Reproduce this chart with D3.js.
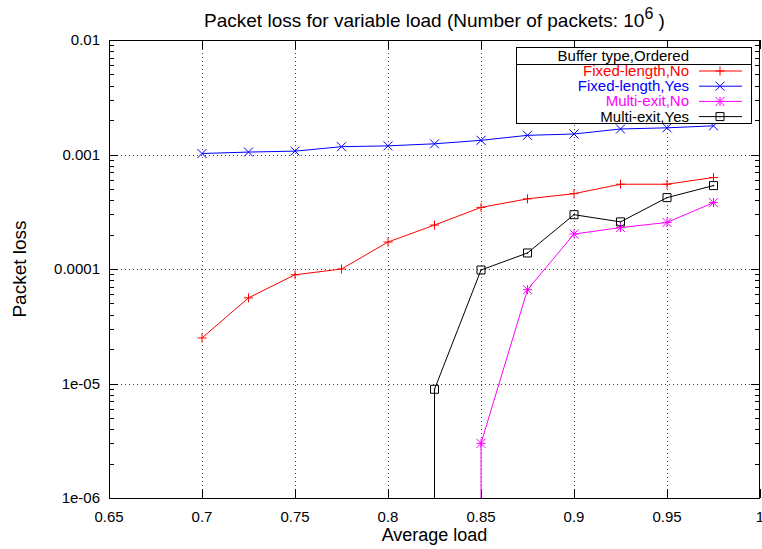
<!DOCTYPE html>
<html>
<head>
<meta charset="utf-8">
<script src="https://cdn.jsdelivr.net/npm/d3@7"></script>
<style>
  body { margin: 0; background: #fff; }
  svg { display: block; font-family: "Liberation Sans", Arial, sans-serif; }
</style>
</head>
<body>
<div id="chart"></div>
<script>
// average load values (x)
const loads = [0.7, 0.725, 0.75, 0.775, 0.8, 0.825, 0.85, 0.875, 0.9, 0.925, 0.95, 0.975];

// packet loss per series (0 = no loss measured)
const fixedNo  = [2.5e-5, 5.6e-5, 8.9e-5, 1.0e-4, 1.72e-4, 2.42e-4, 3.45e-4, 4.1e-4, 4.55e-4, 5.5e-4, 5.5e-4, 6.3e-4];
const fixedYes = [1.02e-3, 1.05e-3, 1.07e-3, 1.17e-3, 1.19e-3, 1.24e-3, 1.33e-3, 1.47e-3, 1.51e-3, 1.67e-3, 1.71e-3, 1.78e-3];
const multiNo  = [0, 0, 0, 0, 0, 0, 3.0e-6, 6.6e-5, 2.02e-4, 2.3e-4, 2.55e-4, 3.8e-4];
const multiYes = [0, 0, 0, 0, 0, 8.9e-6, 9.8e-5, 1.38e-4, 2.98e-4, 2.58e-4, 4.2e-4, 5.35e-4];

const seriesNames = ['Fixed-length,No', 'Fixed-length,Yes', 'Multi-exit,No', 'Multi-exit,Yes'];
const seriesColors = ['#ff0000', '#0000ff', '#ff00ff', '#000000'];
const seriesMarkers = ['plus', 'cross', 'star', 'square'];

const xTicks = [0.65, 0.7, 0.75, 0.8, 0.85, 0.9, 0.95, 1];
const xTickLabels = ['0.65', '0.7', '0.75', '0.8', '0.85', '0.9', '0.95', '1'];
const yTicks = [1e-6, 1e-5, 1e-4, 1e-3, 1e-2];
const yTickLabels = ['1e-06', '1e-05', '0.0001', '0.001', '0.01'];

const width = 762, height = 549;
const margin = { top: 40, right: 2, bottom: 51, left: 109 };
const fs = 15;

const svg = d3.select('#chart').append('svg')
    .attr('width', width)
    .attr('height', height);

svg.append('rect').attr('width', width).attr('height', height).attr('fill', '#fff');

const x = d3.scaleLinear().domain([0.65, 1]).range([margin.left, width - margin.right]);
const y = d3.scaleLog().domain([1e-6, 1e-2]).range([height - margin.bottom, margin.top]);

const x0 = x.range()[0], x1 = x.range()[1];
const y0 = y.range()[0], y1 = y.range()[1];

// grid
const grid = svg.append('g')
    .attr('stroke', '#444')
    .attr('stroke-width', 1)
    .attr('stroke-dasharray', '1,3');
grid.selectAll('.vg').data(xTicks.slice(1, -1)).enter().append('line')
    .attr('x1', d => Math.round(x(d)) + 0.5).attr('x2', d => Math.round(x(d)) + 0.5)
    .attr('y1', y0).attr('y2', y1);
grid.selectAll('.hg').data(yTicks.slice(1, -1)).enter().append('line')
    .attr('y1', d => Math.round(y(d)) + 0.5).attr('y2', d => Math.round(y(d)) + 0.5)
    .attr('x1', x0).attr('x2', x1);

// ticks (inward, both sides)
const ticks = svg.append('g').attr('stroke', '#000').attr('stroke-width', 1);
xTicks.forEach(t => {
    const px = Math.round(x(t)) + 0.5;
    ticks.append('line').attr('x1', px).attr('x2', px).attr('y1', y0).attr('y2', y0 - 9);
    ticks.append('line').attr('x1', px).attr('x2', px).attr('y1', y1).attr('y2', y1 + 9);
});
const minor = [];
for (let e = -6; e < -2; e++) {
    for (let m = 1; m < 10; m++) minor.push(m * Math.pow(10, e));
}
minor.push(1e-2);
minor.forEach(t => {
    const major = yTicks.some(v => Math.abs(v - t) / t < 1e-9);
    const len = major ? 9 : 5;
    const py = Math.round(y(t)) + 0.5;
    ticks.append('line').attr('x1', x0).attr('x2', x0 + len).attr('y1', py).attr('y2', py);
    ticks.append('line').attr('x1', x1).attr('x2', x1 - len).attr('y1', py).attr('y2', py);
});

// tick labels
svg.append('g').selectAll('text').data(xTicks).enter().append('text')
    .attr('x', d => x(d)).attr('y', y0 + 24)
    .attr('text-anchor', 'middle')
    .attr('font-size', fs)
    .text((d, i) => xTickLabels[i]);
svg.append('g').selectAll('text').data(yTicks).enter().append('text')
    .attr('x', x0 - 9).attr('y', d => y(d) + 5)
    .attr('text-anchor', 'end')
    .attr('font-size', fs)
    .text((d, i) => yTickLabels[i]);

// axis titles
svg.append('text')
    .attr('x', (x0 + x1) / 2).attr('y', 541)
    .attr('text-anchor', 'middle').attr('font-size', 18)
    .text('Average load');
svg.append('text')
    .attr('transform', `translate(26,${(y0 + y1) / 2}) rotate(-90)`)
    .attr('text-anchor', 'middle').attr('font-size', 19)
    .text('Packet loss');
const title = svg.append('text')
    .attr('x', (x0 + x1) / 2).attr('y', 27)
    .attr('text-anchor', 'middle').attr('font-size', 19);
title.append('tspan').text('Packet loss for variable load (Number of packets: 10');
title.append('tspan').attr('dy', -8).attr('font-size', 16).text('6');
title.append('tspan').attr('dy', 8).text(' )');

// marker drawing
function marker(g, kind, cx, cy, color) {
    const s = 4.5;
    const p = g.append('path').attr('stroke', color).attr('stroke-width', 1).attr('fill', 'none');
    if (kind === 'plus') {
        p.attr('d', `M${cx - s},${cy}H${cx + s}M${cx},${cy - s}V${cy + s}`);
    } else if (kind === 'cross') {
        p.attr('d', `M${cx - s},${cy - s}L${cx + s},${cy + s}M${cx - s},${cy + s}L${cx + s},${cy - s}`);
    } else if (kind === 'star') {
        p.attr('d', `M${cx - s},${cy}H${cx + s}M${cx},${cy - s}V${cy + s}M${cx - s},${cy - s}L${cx + s},${cy + s}M${cx - s},${cy + s}L${cx + s},${cy - s}`);
    } else {
        p.attr('d', `M${cx - s + 0.5},${cy - s + 0.5}h${2 * s - 1}v${2 * s - 1}h${-(2 * s - 1)}Z`);
        g.append('circle').attr('cx', cx).attr('cy', cy).attr('r', 0.8).attr('fill', color);
    }
}

// series
const allSeries = [fixedNo, fixedYes, multiNo, multiYes];
const plot = svg.append('g');
allSeries.forEach((vals, si) => {
    const color = seriesColors[si];
    const pts = loads.map((l, i) => ({ l, v: vals[i], prev: i > 0 ? vals[i - 1] : null }))
        .filter(d => d.v > 0);
    const line = d3.line().x(d => x(d.l)).y(d => y(d.v));
    plot.append('path').datum(pts)
        .attr('d', line)
        .attr('fill', 'none').attr('stroke', color).attr('stroke-width', 1);
    // zero loss before first point: drop to the bottom edge
    pts.filter(d => d.prev === 0).forEach(d => {
        plot.append('line')
            .attr('x1', x(d.l)).attr('x2', x(d.l))
            .attr('y1', y(d.v)).attr('y2', y0)
            .attr('stroke', color).attr('stroke-width', 1);
    });
    pts.forEach(d => marker(plot, seriesMarkers[si], x(d.l), y(d.v), color));
});

// border
svg.append('rect')
    .attr('x', x0 + 0.5).attr('y', y1 + 0.5)
    .attr('width', x1 - x0 - 1).attr('height', y0 - y1)
    .attr('fill', 'none').attr('stroke', '#000');

// legend
const lg = svg.append('g');
const lx = 516.5, ly = 47.5, lw = 235, lh = 76;
lg.append('rect').attr('x', lx).attr('y', ly).attr('width', lw).attr('height', lh)
    .attr('fill', '#fff').attr('stroke', '#000');
lg.append('line').attr('x1', lx).attr('x2', lx + lw).attr('y1', ly + 17).attr('y2', ly + 17).attr('stroke', '#000');
lg.append('text').attr('x', 689).attr('y', ly + 13.5)
    .attr('text-anchor', 'end').attr('font-size', fs)
    .text('Buffer type,Ordered');
seriesNames.forEach((name, i) => {
    const ry = 71 + i * 15.2;
    lg.append('text').attr('x', 689).attr('y', ry + 5)
        .attr('text-anchor', 'end').attr('font-size', fs)
        .attr('fill', seriesColors[i])
        .text(name);
    lg.append('line').attr('x1', 699).attr('x2', 742).attr('y1', ry).attr('y2', ry)
        .attr('stroke', seriesColors[i]);
    marker(lg, seriesMarkers[i], 720, ry, seriesColors[i]);
});
</script>
</body>
</html>
